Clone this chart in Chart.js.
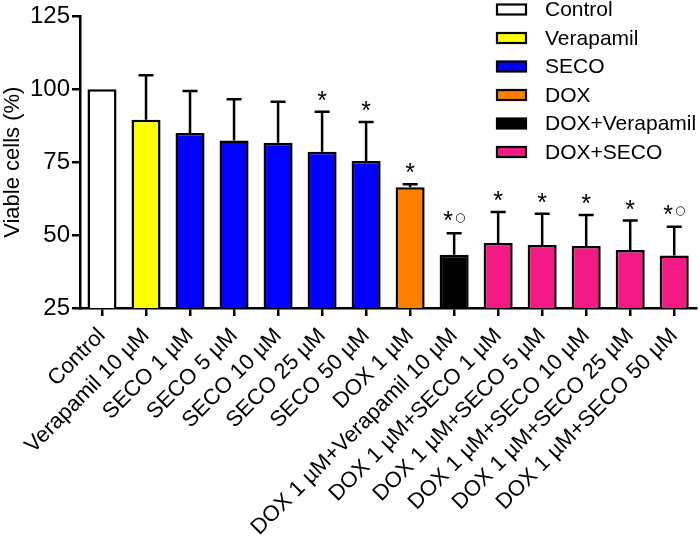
<!DOCTYPE html>
<html>
<head>
<meta charset="utf-8">
<script src="https://cdn.jsdelivr.net/npm/chart.js@4.4.1/dist/chart.umd.min.js"></script>
<style>
  html, body { margin: 0; padding: 0; background: #fff; }
  #wrap { width: 700px; height: 539px; }
</style>
</head>
<body>
<div id="wrap"><canvas id="myChart" width="700" height="539"></canvas></div>
<script>
// data
const categories = ['Control', 'Verapamil 10 \u00b5M', 'SECO 1 \u00b5M', 'SECO 5 \u00b5M', 'SECO 10 \u00b5M',
  'SECO 25 \u00b5M', 'SECO 50 \u00b5M', 'DOX 1 \u00b5M', 'DOX 1 \u00b5M+Verapamil 10 \u00b5M',
  'DOX 1 \u00b5M+SECO 1 \u00b5M', 'DOX 1 \u00b5M+SECO 5 \u00b5M', 'DOX 1 \u00b5M+SECO 10 \u00b5M',
  'DOX 1 \u00b5M+SECO 25 \u00b5M', 'DOX 1 \u00b5M+SECO 50 \u00b5M'];
const viable = [100, 89.6, 85.0, 82.4, 81.7, 78.6, 75.4, 66.4, 43.3, 47.3, 46.6, 46.3, 44.9, 43.0];
const sd = [0, 15.2, 14.4, 14.2, 14.0, 13.7, 13.4, 1.0, 7.3, 10.6, 10.7, 10.6, 10.1, 9.9];
const stars = [false, false, false, false, false, true, true, true, true, true, true, true, true, true];
const circles = [false, false, false, false, false, false, false, false, true, false, false, false, false, true];
const groups = ['Control', 'Verapamil', 'SECO', 'DOX', 'DOX+Verapamil', 'DOX+SECO'];
const groupColors = ['#ffffff', '#ffff00', '#0000ff', '#ff8000', '#000000', '#f41a85'];
const barGroup = [0, 1, 2, 2, 2, 2, 2, 3, 4, 5, 5, 5, 5, 5];
const yTicks = [25, 50, 75, 100, 125];

const FONT = 'Arial, "Liberation Sans", sans-serif';

// error bars + significance marks
const errorBars = {
  id: 'errorBars',
  afterDatasetsDraw(chart) {
    const ctx = chart.ctx;
    const y = chart.scales.y;
    const meta = chart.getDatasetMeta(0);
    ctx.save();
    ctx.strokeStyle = '#000';
    ctx.lineWidth = 2.5;
    meta.data.forEach((bar, i) => {
      const yMean = y.getPixelForValue(viable[i]);
      const yTop = y.getPixelForValue(viable[i] + sd[i]);
      if (sd[i] > 0) {
        ctx.beginPath();
        ctx.moveTo(bar.x, yMean);
        ctx.lineTo(bar.x, yTop);
        ctx.moveTo(bar.x - 7.5, yTop);
        ctx.lineTo(bar.x + 7.5, yTop);
        ctx.stroke();
      }
      if (stars[i]) {
        ctx.fillStyle = '#000';
        ctx.font = '25px ' + FONT;
        ctx.textAlign = 'center';
        ctx.textBaseline = 'alphabetic';
        const m = ctx.measureText('*');
        const cy = yTop - (circles[i] ? 17 : 16);
        const base = cy + (m.actualBoundingBoxAscent - m.actualBoundingBoxDescent) / 2;
        const sx = circles[i] ? bar.x - 6 : bar.x;
        ctx.fillText('*', sx, base);
        if (circles[i]) {
          ctx.font = '12px "DejaVu Sans", sans-serif';
          const mc = ctx.measureText('\u25cb');
          const b2 = cy + 1.5 + (mc.actualBoundingBoxAscent - mc.actualBoundingBoxDescent) / 2;
          ctx.fillText('\u25cb', bar.x + 6, b2);
        }
      }
    });
    ctx.restore();
  }
};

// vertical legend in the upper right corner
const boxLegend = {
  id: 'boxLegend',
  afterDraw(chart) {
    const ctx = chart.ctx;
    ctx.save();
    ctx.font = '21px ' + FONT;
    ctx.textAlign = 'left';
    ctx.textBaseline = 'middle';
    groups.forEach((g, i) => {
      const cy = 9.5 + i * 28.5;
      ctx.fillStyle = groupColors[i];
      ctx.fillRect(497, cy - 5, 29, 10);
      ctx.strokeStyle = '#000';
      ctx.lineWidth = 2.2;
      ctx.strokeRect(497, cy - 5, 29, 10);
      ctx.fillStyle = '#000';
      ctx.fillText(g, 545, cy + 1);
    });
    ctx.restore();
  }
};

new Chart(document.getElementById('myChart'), {
  type: 'bar',
  data: {
    labels: categories,
    datasets: [{
      label: 'Viable cells (%)',
      data: viable,
      backgroundColor: barGroup.map(g => groupColors[g]),
      borderColor: '#000',
      borderWidth: 2.5,
      borderSkipped: 'start',
      barPercentage: 0.75,
      categoryPercentage: 0.88
    }]
  },
  options: {
    responsive: false,
    animation: false,
    devicePixelRatio: 1,
    layout: { padding: { top: 1, right: 3, left: 0, bottom: 0 } },
    plugins: {
      legend: { display: false },
      tooltip: { enabled: false }
    },
    scales: {
      x: {
        offset: true,
        grid: { display: true, drawOnChartArea: false, offset: false, color: '#000', lineWidth: 2.5, tickLength: 8 },
        border: { display: true, color: '#000', width: 2.5 },
        ticks: {
          color: '#000', font: { family: FONT, size: 22 },
          maxRotation: 45, minRotation: 45, autoSkip: false, padding: 7
        },
        afterFit(scale) { scale.height = 231; }
      },
      y: {
        min: 25, max: 125,
        afterBuildTicks(scale) { scale.ticks = yTicks.map(v => ({ value: v })); },
        grid: { display: true, drawOnChartArea: false, color: '#000', lineWidth: 2.5, tickLength: 8 },
        border: { display: true, color: '#000', width: 2.5 },
        ticks: { color: '#000', font: { family: FONT, size: 24 }, padding: 2 },
        title: { display: true, text: 'Viable cells (%)', color: '#000', font: { family: FONT, size: 22 }, padding: { top: 0, bottom: 0 } },
        afterFit(scale) { scale.width = 80; }
      }
    }
  },
  plugins: [errorBars, boxLegend]
});
</script>
</body>
</html>
